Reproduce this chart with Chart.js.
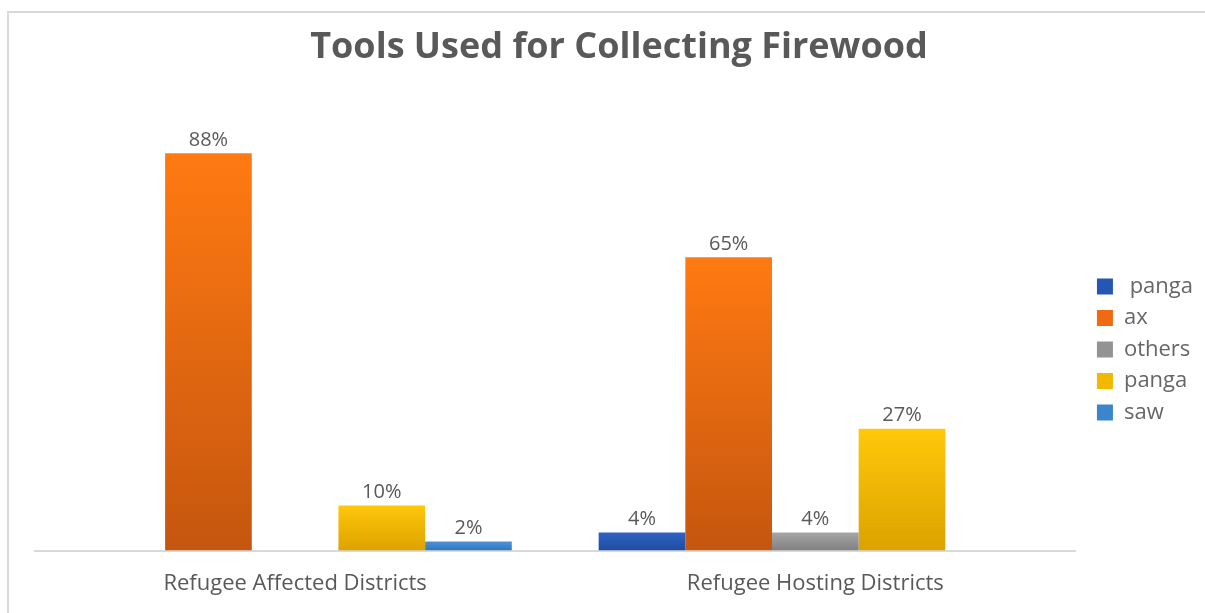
<!DOCTYPE html>
<html>
<head>
<meta charset="utf-8">
<title>Tools Used for Collecting Firewood</title>
<script src="https://cdn.jsdelivr.net/npm/chart.js@4.4.1/dist/chart.umd.min.js"></script>
<style>
  html, body { margin: 0; padding: 0; background: #ffffff; }
  #wrap { position: relative; width: 1205px; height: 613px; overflow: hidden; }
  #frame {
    position: absolute; left: 7px; top: 11px; right: -4px; bottom: -4px;
    border-top: 2px solid #d9d9d9; border-left: 2px solid #d9d9d9;
  }
  #chart { position: absolute; left: 0; top: 0; }
</style>
</head>
<body>
<div id="wrap">
  <div id="frame"></div>
  <canvas id="chart" width="1205" height="613"></canvas>
</div>
<script>
// Categories and series values (percent of respondents)
const categories = ['Refugee Affected Districts', 'Refugee Hosting Districts'];
const seriesNames = [' panga', 'ax', 'others', 'panga', 'saw'];
const pangaFirst = [null, 4];
const axValues = [88, 65];
const othersValues = [null, 4];
const pangaSecond = [10, 27];
const sawValues = [2, null];

// Top / bottom colours of each bar gradient
const topColors = ['#2f63c4', '#ff7a12', '#a6a6a6', '#ffc80a', '#4a93dc'];
const bottomColors = ['#1f4c9e', '#c5560f', '#808080', '#dca200', '#2f76b8'];
const legendColors = ['#2556b4', '#ef6a10', '#939393', '#f2b700', '#3a85cc'];

function barGradient(i) {
  return function (ctx) {
    const chart = ctx.chart;
    const y = chart.scales && chart.scales.y;
    if (!chart.chartArea || !y || ctx.raw == null) return legendColors[i];
    const top = y.getPixelForValue(ctx.raw);
    const base = y.getPixelForValue(0);
    if (!isFinite(top) || !isFinite(base) || base - top < 1) return legendColors[i];
    const g = chart.ctx.createLinearGradient(0, top, 0, base);
    g.addColorStop(0, topColors[i]);
    g.addColorStop(1, bottomColors[i]);
    return g;
  };
}

const seriesValues = [pangaFirst, axValues, othersValues, pangaSecond, sawValues];
const datasets = seriesNames.map((name, i) => ({
  label: name,
  data: seriesValues[i],
  backgroundColor: barGradient(i),
  borderWidth: 0,
  categoryPercentage: 0.833,
  barPercentage: 1.0
}));

// Percent labels above each bar
const valueLabels = {
  id: 'valueLabels',
  afterDatasetsDraw(chart) {
    const c = chart.ctx;
    c.save();
    c.font = '20px "Open Sans"';
    c.fillStyle = '#595959';
    c.textAlign = 'center';
    c.textBaseline = 'bottom';
    chart.data.datasets.forEach((ds, di) => {
      const meta = chart.getDatasetMeta(di);
      meta.data.forEach((el, idx) => {
        const v = ds.data[idx];
        if (v == null) return;
        c.fillText(v + '%', el.x, el.y - 3);
      });
    });
    c.restore();
  }
};

// Empty layout box that keeps some room between the plot and the legend
const legendGap = {
  id: 'legendGap',
  beforeInit(chart) {
    Chart.layouts.addBox(chart, {
      position: 'right',
      weight: 500,
      fullSize: false,
      options: {},
      top: 0, left: 0, right: 0, bottom: 0, width: 0, height: 0,
      isHorizontal() { return false; },
      update(maxWidth, maxHeight) {
        this.width = 12;
        this.height = maxHeight;
      },
      draw() {}
    });
  }
};

new Chart(document.getElementById('chart'), {
  type: 'bar',
  data: { labels: categories, datasets: datasets },
  plugins: [valueLabels, legendGap],
  options: {
    responsive: false,
    animation: false,
    layout: { padding: { top: 18, right: 2, bottom: 4, left: 35 } },
    plugins: {
      title: {
        display: true,
        text: 'Tools Used for Collecting Firewood',
        color: '#595959',
        font: { family: '"Open Sans"', size: 36, weight: 'bold' },
        padding: { top: 8, bottom: 30 }
      },
      legend: {
        position: 'right',
        title: {
          display: true,
          text: ' ',
          font: { size: 12 },
          padding: { top: 28.8, bottom: 28.8 }
        },
        labels: {
          color: '#595959',
          font: { family: '"Open Sans"', size: 22 },
          boxWidth: 16,
          boxHeight: 16,
          padding: 9.5,
          generateLabels(chart) {
            return chart.data.datasets.map((ds, i) => ({
              text: ds.label,
              fillStyle: legendColors[i],
              strokeStyle: legendColors[i],
              lineWidth: 0,
              hidden: false,
              datasetIndex: i
            }));
          }
        }
      },
      tooltip: { enabled: false }
    },
    scales: {
      x: {
        grid: { display: false },
        border: { display: true, color: '#d9d9d9', width: 2 },
        ticks: {
          color: '#595959',
          font: { family: '"Open Sans"', size: 22 },
          padding: 12
        }
      },
      y: {
        display: false,
        min: 0,
        max: 100
      }
    }
  }
});
</script>
</body>
</html>
